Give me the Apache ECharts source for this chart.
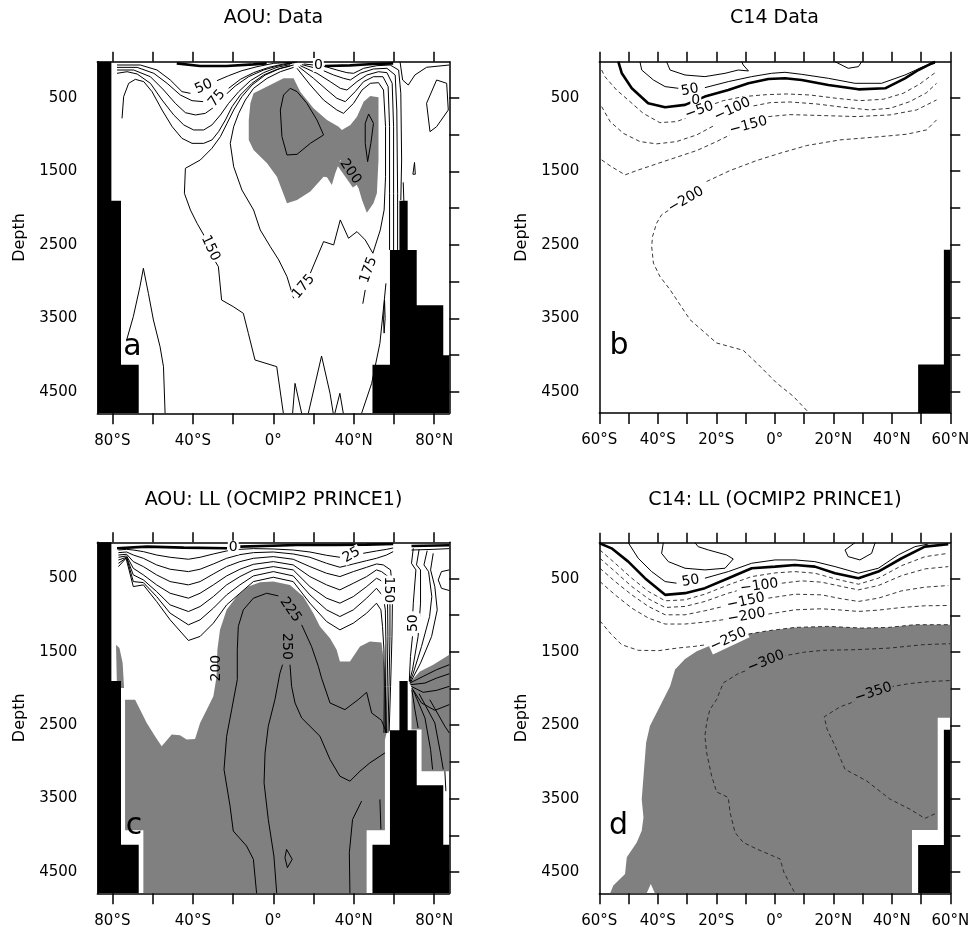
<!DOCTYPE html>
<html><head><meta charset="utf-8">
<script src="https://cdn.jsdelivr.net/npm/echarts@6.0.0/dist/echarts.min.js"></script>
<style>html,body{margin:0;padding:0;background:#fff}#main{width:969px;height:927px}</style>
</head><body><div id="main"></div>
<script>
// ================= DATA =================
const panelTitles = ['AOU: Data', 'C14 Data', 'AOU: LL (OCMIP2 PRINCE1)', 'C14: LL (OCMIP2 PRINCE1)'];
const panelLetters = ['a', 'b', 'c', 'd'];
const letterPos = [[-70.0, 3893], [-53.3, 3887], [-69.2, 3877], [-53.4, 3882]];
const latTicksWide = [-80, -60, -40, -20, 0, 20, 40, 60, 80];
const latLabelsWide = [-80, -40, 0, 40, 80];
const latTicksNarrow = [-60, -50, -40, -30, -20, -10, 0, 10, 20, 30, 40, 50, 60];
const latLabelsNarrow = [-60, -40, -20, 0, 20, 40, 60];
const depthTicks = [500, 1000, 1500, 2000, 2500, 3000, 3500, 4000, 4500];
const depthLabels = [500, 1500, 2500, 3500, 4500];

// ---- panel a : AOU data ----
const aLandW = [[-87.5,0],[-80.5,0],[-80.5,1900],[-75.7,1900],[-75.7,4130],[-66.9,4130],[-66.9,4790],[-87.5,4790]];
const aLandE = [[49.3,4790],[49.3,4130],[58,4130],[58,2570],[62.7,2570],[62.7,1900],[66.8,1900],[66.8,2570],[71.3,2570],[71.3,3320],[84.5,3320],[84.5,4000],[87.5,4000],[87.5,4790]];
const aGray = [[-9.8,440],[-4.8,372],[5.1,236],[10.1,236],[13.4,417],[20.0,644],[26.7,802],[32.5,893],[34.1,938],[38.3,870],[41.6,757],[44.9,553],[48.2,476],[52.3,494],[52.3,893],[52.3,1346],[51.5,1799],[49.8,1935],[46.5,2062],[44.1,1890],[42.4,1731],[38.3,1527],[33.3,1346],[30.8,1527],[29.1,1686],[26.7,1582],[25.0,1573],[18.4,1776],[11.8,1890],[6.8,1935],[4.3,1754],[1.8,1573],[-3.1,1391],[-9.8,1210],[-12.2,1074],[-12.2,802],[-11.4,576]];
const aZeroW = [[-48.0,33],[-36.4,69],[-23.2,69],[-9.9,46],[-3.3,33]];
const aZeroE = [[25.7,69],[38.1,60],[49.7,42],[59.6,33]];
const aT1 = [[-75.2,780],[-74.4,485],[-71.9,304],[-68.6,250],[-64.4,281],[-60.3,417],[-55.3,667],[-50.3,893],[-45.4,1052],[-40.4,1120],[-34.6,1120],[-30.5,1074],[-27.2,961],[-23.8,802],[-20.5,621],[-16.4,463],[-10.6,304],[-4.8,191],[1.8,114],[8.4,69]];
const aT2 = [[-77.7,168],[-72.7,146],[-67.7,177],[-61.1,304],[-55.3,531],[-49.5,734],[-44.5,870],[-39.6,938],[-34.6,938],[-30.5,870],[-26.3,734],[-22.2,576],[-17.2,417],[-11.4,268],[-4.8,159],[1.8,87],[8.4,50]];
const aT3 = [[-77.7,123],[-69.4,123],[-61.1,214],[-54.5,395],[-48.7,576],[-43.7,703],[-38.7,734],[-33.8,712],[-29.6,630],[-24.7,485],[-18.9,340],[-12.3,214],[-4.8,123],[2.7,64],[9.3,32]];
const aT4W = [[-77.7,87],[-67.7,87],[-59.4,168],[-52.8,304],[-46.2,463],[-40.4,540],[-34.9,553]];
const aT4E = [[-22.2,372],[-16.4,250],[-9.8,159],[-2.3,87],[5.1,41],[10.9,23]];
const aT5W = [[-77.7,55],[-66.1,55],[-57.8,123],[-51.2,259],[-45.4,417],[-41.2,440]];
const aT5E = [[-28.0,268],[-22.2,200],[-15.6,132],[-8.1,78],[0.2,32],[11.8,14]];
const a150a = [[10.1,55],[3.5,100],[-4.0,191],[-10.6,327],[-15.6,485],[-19.7,667],[-23.0,848],[-26.3,1029],[-30.5,1187],[-36.3,1346],[-43.7,1459],[-44.2,1799],[-41.2,2026],[-37.9,2207],[-34.3,2379]];
const a150b = [[-28.8,2728],[-27.3,2797],[-25.7,3250],[-19.9,3340],[-14.9,3431],[-12.4,3703],[-9.1,4065],[1.7,4156],[5.0,4790]];
const a175a = [[10.1,87],[3.5,146],[-3.1,236],[-9.8,372],[-13.9,531],[-17.2,712],[-19.7,893],[-21.4,1120],[-19.7,1437],[-15.6,1754],[-9.8,2026],[-6.5,2297],[-1.5,2524],[2.7,2705],[6.8,2932],[10.1,3226]];
const a175b = [[18.4,2886],[25.0,2456],[30.0,2501],[33.3,2161],[37.4,2410],[41.6,2320],[45.7,2433],[49.5,2614]];
const a175c = [[45.7,3113],[44.5,3300]];
const aR1 = [[11.8,100],[18.4,327],[25.0,531],[31.6,667],[34.9,712],[39.9,576],[44.1,395],[48.2,304],[52.3,295],[54.8,395],[55.8,893],[55.8,1573],[55.1,2026],[53.2,2297],[49.5,2614]];
const aR2 = [[12.6,78],[20.0,236],[26.7,395],[31.6,508],[35.8,553],[40.7,417],[44.9,281],[49.8,214],[54.5,214],[57.1,349],[57.8,893],[57.8,1799],[57.8,2569]];
const aR3 = [[13.4,64],[21.7,168],[28.3,281],[33.3,372],[36.6,395],[41.6,281],[46.5,191],[52.3,146],[56.5,159],[59.1,304],[59.8,893],[59.8,1799],[59.8,2590]];
const aR4 = [[14.2,50],[23.4,114],[30.0,191],[34.9,236],[38.3,259],[43.2,168],[49.8,109],[56.5,100],[60.6,191],[61.4,667],[61.8,1799],[61.8,2590]];
const aR5 = [[15.1,41],[25.0,69],[31.6,123],[36.6,159],[39.9,168],[44.9,100],[51.5,64],[58.1,55],[62.3,123],[63.4,440],[63.8,1346],[63.4,1890]];
const a225W = [[3.5,667],[5.1,463],[8.4,372],[11.8,417],[16.7,576],[21.7,802],[25.0,1006],[18.4,1120],[11.8,1269],[6.8,1278],[4.3,1029],[3.5,667]];
const a225E = [[45.7,848],[47.4,721],[49.8,848],[48.5,1120],[46.9,1369],[45.7,1120],[45.7,848]];
const aSouth = [[-72.9,3793],[-69.6,3476],[-66.3,3068],[-64.6,2819],[-62.1,3159],[-59.6,3521],[-56.3,3884],[-54.6,4156],[-53.8,4790]];
const aB1 = [[9.6,4790],[10.8,4383],[14.1,4790]];
const aB2 = [[17.4,4790],[24.0,4011],[28.2,4518],[29.8,4790]];
const aB3 = [[30.6,4790],[33.1,4518],[34.8,4790]];
const aB4 = [[43.9,4790],[48.9,4383],[53.0,3839],[54.7,3385],[56.0,3023]];
const aB5 = [[55.3,3250],[54.8,3520],[55.1,3700],[55.6,3500],[55.3,3250]];
const aNE1 = [[63.0,10],[64.3,259],[67.1,327],[70.4,191],[76.2,86],[87.5,55]];
const aNE2 = [[76.2,575],[81.2,259],[86.2,304],[87.0,667],[81.2,893],[77.9,961],[76.2,575]];
const aNE3 = [[69.4,1540],[70.2,1380],[70.6,1540],[69.4,1540]];
const aNE4 = [[64.6,1650],[64.9,1903]];
const aLabels = [[-34.6,349,'50'],[-28.0,508,'75'],[-31.3,2546,'150'],[15.1,3067,'175'],[47.4,2841,'175'],[38.3,1505,'200'],[22.4,55,'0']];

// ---- panel b : C14 data ----
const bLand = [[49,4790],[49,4130],[57.8,4130],[57.8,2570],[60,2570],[60,4790]];
const bZero = [[-53.5,10],[-52.3,168],[-48.9,372],[-43.3,576],[-37.5,630],[-30.7,598],[-23.9,485],[-15.9,395],[-9.0,304],[-2.2,245],[3.5,236],[9.2,259],[18.3,327],[28.6,386],[37.7,372],[44.5,236],[49.1,123],[54.8,10]];
const bP50W = [[-46.1,10],[-45.5,123],[-41.5,259],[-37.5,349],[-33.0,372]];
const bP50E = [[-23.9,363],[-15.9,281],[-7.9,213],[-1.1,168],[3.5,154],[9.2,182],[18.3,236],[27.4,304],[36.5,304],[44.5,191],[50.8,77],[54.8,32]];
const bP100W = [[-37.0,10],[-35.8,123],[-30.7,191],[-23.9,213],[-17.0,168],[-12.5,123],[-9.0,136],[-10.8,55],[-11.3,10]];
const bP100E = [[20.6,10],[25.1,100],[28.6,77],[29.7,10]];
const bM50W = [[-59.2,123],[-58.1,213],[-54.1,395],[-49.5,553],[-45.0,712],[-39.3,839],[-33.6,825],[-29.6,766]];
const bM50E = [[-22.7,612],[-17.6,540],[-10.8,485],[-2.8,458],[4.1,449],[12.0,463],[21.1,508],[29.1,540],[37.1,521],[43.9,440],[49.6,313],[55.3,145]];
const bM100W = [[-59.2,621],[-56.3,825],[-51.8,984],[-46.1,1097],[-40.4,1128],[-33.6,1097],[-26.7,1006],[-21.0,884]];
const bM100E = [[-7.3,612],[-1.6,567],[5.2,558],[14.3,585],[23.4,630],[32.5,666],[39.4,644],[46.2,553],[51.9,431],[55.3,304]];
const bM150W = [[-59.2,1346],[-56.3,1427],[-51.2,1550],[-47.2,1491],[-40.4,1400],[-33.6,1310],[-26.7,1219],[-19.9,1097],[-15.3,1006]];
const bM150E = [[-2.2,757],[5.2,730],[16.6,743],[28.0,757],[39.4,734],[48.5,666],[55.3,530]];
const bM200E = [[-23.3,1640],[-15.3,1491],[-6.2,1355],[1.8,1255],[10.9,1151],[22.3,1074],[33.7,1038],[45.1,997],[51.9,938],[55.3,802]];
const bM200S = [[-36.4,2034],[-38.7,2093],[-40.4,2207],[-41.8,2388],[-42.1,2524],[-41.5,2750],[-39.3,2931],[-35.8,3113],[-29.0,3520],[-19.9,3837],[-10.8,3937],[-6.2,4109],[0.6,4381],[6.3,4562],[11.5,4780]];
const bLabels = [[-29.0,395,'50'],[-27.0,530,'0'],[-25.8,675,'\u221250'],[-14.5,660,'\u2212100'],[-9.0,880,'\u2212150'],[-30.4,1889,'\u2212200']];

// ---- panel c : AOU model ----
const cLandW = [[-87.5,0],[-80.5,0],[-80.5,1900],[-75.7,1900],[-75.7,4130],[-66.9,4130],[-66.9,4790],[-87.5,4790]];
const cLandE = [[49.3,4790],[49.3,4130],[58,4130],[58,2570],[62.7,2570],[62.7,1900],[66.8,1900],[66.8,2570],[71.3,2570],[71.3,3320],[84.5,3320],[84.5,4130],[87.5,4130],[87.5,4790]];
const cGray = [[0,545],[8.3,590],[14.9,749],[19.9,975],[23.2,1156],[28.2,1315],[31.5,1473],[33.1,1632],[38.1,1632],[43.1,1428],[48.0,1360],[53.8,1374],[55.5,1745],[56.3,2198],[56.3,2606],[55.5,2700],[55.5,3933],[46.4,3933],[46.4,4790],[-64.6,4790],[-64.6,3933],[-73.7,3933],[-73.7,2153],[-68.7,2153],[-62.9,2470],[-58.8,2651],[-55.5,2787],[-50.5,2629],[-46.4,2638],[-43.1,2697],[-38.9,2688],[-36.4,2470],[-33.1,2289],[-29.8,2108],[-28.2,1836],[-27.8,1473],[-26.5,1202],[-23.2,930],[-18.2,749],[-12.4,613],[-6.6,554]];
const cGraySliver = [[-78.2,1406],[-76.5,1451],[-74.9,1655],[-74.2,1994],[-75.9,1994],[-77.8,1890]];
const cGrayNE = [[67.6,1927],[72.9,1768],[79.5,1677],[87.5,1541],[87.5,3127],[73.7,3127],[73.7,2561],[68.7,2561],[68.7,1972]];
const cZeroW = [[-77.7,92],[-62.8,69],[-44.6,83],[-23.0,92]];
const cZeroE = [[-16.4,69],[11.8,47],[29.8,47],[46.4,42],[59.6,33]];
const cZeroNE = [[68.7,60],[87.5,51]];
const cK1W = [[-77.0,115],[-72.9,106],[-69.6,115],[-64.6,137],[-58.0,183],[-51.3,214],[-42.2,241],[-36.4,214],[-29.8,169],[-23.2,128],[-16.6,106],[-9.9,96],[0,101],[9.9,115],[18.2,142],[26.5,187],[33.1,214]];
const cK1E = [[44.7,160],[51.3,128],[56.3,106],[59.6,87]];
const cK2 = [[-77.0,151],[-72.9,142],[-69.6,183],[-64.6,228],[-58.0,318],[-51.3,377],[-42.2,409],[-36.4,377],[-29.8,305],[-23.2,228],[-16.6,178],[-9.9,151],[0,142],[9.9,169],[18.2,214],[26.5,296],[33.1,350],[39.8,305],[46.4,260],[51.3,228],[56.3,183],[59.6,137]];
const cK3 = [[-77.0,183],[-72.9,173],[-69.6,273],[-64.6,341],[-58.0,454],[-51.3,545],[-42.2,590],[-36.4,545],[-29.8,441],[-23.2,341],[-16.6,273],[-9.9,228],[0,205],[9.9,241],[18.2,341],[26.5,432],[33.1,477],[39.8,409],[46.4,350],[51.3,305],[54.7,318],[58.3,386],[59.3,658],[59.0,1292],[58.3,1972],[57.6,2583]];
const cK4 = [[-77.0,214],[-72.9,196],[-69.6,364],[-64.6,454],[-58.0,590],[-51.3,704],[-42.2,771],[-36.4,704],[-29.8,590],[-23.2,468],[-16.6,377],[-9.9,310],[0,273],[9.9,318],[18.2,477],[26.5,590],[33.1,658],[39.8,568],[46.4,477],[51.3,386],[53.8,409],[57.1,477],[58.0,749],[58.0,1292],[57.5,1972],[57.0,2606]];
const cK5 = [[-77.0,251],[-72.9,214],[-69.6,454],[-64.6,522],[-58.0,681],[-51.3,862],[-42.2,953],[-36.4,885],[-29.8,749],[-23.2,590],[-16.6,477],[-9.9,386],[0,341],[9.9,386],[18.2,613],[26.5,771],[33.1,839],[39.8,749],[46.4,613],[51.3,500],[53.0,522],[56.0,590],[56.8,839],[57.0,1292],[56.6,1972],[56.3,2606]];
const cK6 = [[-77.0,296],[-72.9,219],[-69.6,545],[-64.6,559],[-58.0,749],[-51.3,975],[-42.2,1134],[-36.4,1066],[-29.8,907],[-23.2,726],[-16.6,590],[-9.9,468],[0,409],[9.9,468],[18.2,726],[26.5,930],[33.1,1021],[39.8,930],[46.4,771],[51.3,636],[52.2,658],[54.7,749],[55.7,930],[56.0,1383],[55.8,1972],[55.7,2606]];
const cK7 = [[-77.0,341],[-73.2,228],[-69.6,613],[-64.6,590],[-58.0,817],[-51.3,1066],[-42.2,1347],[-36.4,1292],[-29.8,1111],[-23.2,862],[-16.6,704],[-9.9,545],[0,486],[9.9,545],[18.2,839],[26.5,1089],[33.1,1202],[39.8,1111],[46.4,975],[51.3,839],[53.5,930],[54.3,1156],[55.0,1473],[55.2,1972],[55.0,2606]];
const c225W = [[-8.3,4790],[-9.9,4327],[-13.3,4146],[-19.9,3942],[-21.5,3603],[-24.5,3104],[-23.2,2651],[-20.7,2289],[-17.9,1881],[-17.9,1473],[-17.4,1156],[-14.9,930],[-9.9,771],[-3.3,704],[2.5,740]];
const c225E = [[14.1,1134],[19.0,1428],[22.4,1700],[24.0,1859],[28.2,2198],[35.6,2289],[42.2,2153],[46.4,2053],[48.9,2334],[53.8,2434],[56.3,2606]];
const c250W = [[1.7,4790],[0.3,4282],[-2.5,3784],[-4.6,3286],[-4.1,2878],[-2.5,2515],[0.8,2153],[3.3,1791],[4.6,1677]];
const c250E = [[8.3,1677],[9.1,1972],[10.8,2198],[14.1,2402],[23.2,2651],[28.2,2968],[33.1,3195],[38.1,3263],[43.1,3127],[48.0,3014],[53.0,2923],[55.5,2878]];
const cDeep1 = [[38.1,4790],[37.8,4237],[39.4,3784],[43.9,3535]];
const cDeep2 = [[53.0,3512],[53.5,3920]];
const cDiamond = [[6.6,4192],[9.4,4327],[7.0,4441],[5.8,4305],[6.6,4192]];
const cV1a = [[69.6,92],[68.7,296],[70.9,386],[69.6,839],[69.4,950]];
const cV1b = [[69.2,1290],[68.2,1564],[67.6,1904]];
const cV2 = [[72.5,106],[71.2,318],[73.2,386],[73.2,839],[72.0,1292],[69.2,1745],[67.7,1904]];
const cV3 = [[76.5,124],[74.9,318],[77.2,409],[78.8,749],[77.7,1021],[73.7,1428],[69.6,1791],[67.9,1913]];
const cV4 = [[79.5,160],[78.2,386],[80.3,613],[81.5,930],[78.7,1292],[73.2,1655],[68.2,1918]];
const cLoopNE = [[87.5,386],[83.6,409],[82.0,522],[83.6,636],[87.5,667]];
const cThinNE = [[68.7,115],[79.5,106],[87.5,96]];
const cF1 = [[67.9,1927],[74.5,1836],[81.2,1745],[87.5,1677]];
const cF2 = [[68.2,1949],[75.4,1927],[81.2,1859],[87.5,1800]];
const cF3 = [[68.6,1972],[74.5,2053],[81.2,2026],[87.5,1972]];
const cF4 = [[68.9,1995],[73.7,2198],[80.3,2298],[87.5,2221]];
const cF5 = [[68.9,2017],[70.4,2289],[72.0,2538]];
const cF6 = [[69.6,2026],[75.4,2402],[78.2,2833],[79.2,3104]];
const cF7 = [[72.5,2072],[80.3,2470],[83.1,2878],[84.5,3104]];
const cF8 = [[77.8,2153],[85.3,2515],[87.5,2606]];
const cF9 = [[85.3,3127],[85.8,3399]];
const cLabels = [[-19.9,83,'0'],[38.9,183,'25'],[57.1,658,'150'],[69.6,1111,'50'],[8.5,930,'225'],[6.6,1428,'250'],[-28.2,1723,'200']];

// ---- panel d : C14 model ----
const dLand = [[49,4790],[49,4130],[57.8,4130],[57.8,2560],[60,2560],[60,4790]];
const dGray = [[60.0,1128],[59.3,1128],[47.9,1128],[38.8,1165],[29.7,1174],[18.3,1151],[6.9,1165],[-2.2,1210],[-9.0,1255],[-15.9,1340],[-22.2,1414],[-26.7,1491],[-30.7,1595],[-34.1,1740],[-35.8,1967],[-38.1,2148],[-40.4,2329],[-42.7,2510],[-44.0,2737],[-44.7,3099],[-45.5,3507],[-44.9,3756],[-45.5,3937],[-47.2,4096],[-50.6,4299],[-51.2,4526],[-55.2,4685],[-56.3,4790],[-43.8,4790],[-42.4,4662],[-41.0,4790],[46.9,4790],[46.9,3928],[55.7,3928],[55.7,2397],[60.0,2397]];
const dZero = [[-59.8,19],[-55.8,87],[-50.1,268],[-44.4,494],[-37.5,721],[-30.7,698],[-23.9,630],[-15.9,494],[-7.9,358],[0.1,336],[6.9,313],[13.7,336],[20.6,426],[28.6,494],[35.4,404],[43.4,222],[51.3,64],[59.3,32]];
const dP50W = [[-50.1,10],[-46.7,222],[-42.1,404],[-37.5,540],[-33.6,562]];
const dP50E = [[-23.9,494],[-15.9,404],[-7.9,290],[0.1,245],[6.9,245],[13.7,268],[20.6,336],[28.6,426],[35.4,358],[42.2,177],[47.9,64],[52.5,28]];
const dLoopW = [[-38.1,10],[-38.7,155],[-36.4,268],[-30.7,358],[-23.9,381],[-17.0,358],[-14.2,232],[-16.5,177],[-22.7,109],[-26.2,64],[-27.3,10]];
const dLoopE = [[27.4,10],[24.0,109],[25.1,200],[29.1,245],[33.1,155],[34.3,10]];
const dM50 = [[-59.8,109],[-54.6,290],[-48.9,494],[-43.2,675],[-37.5,802],[-30.7,789],[-23.9,712],[-15.9,585],[-7.9,472],[0.1,422],[6.9,404],[13.7,426],[20.6,503],[28.6,576],[35.4,494],[43.4,322],[51.4,200],[59.3,155]];
const dM100W = [[-59.8,222],[-54.6,404],[-48.9,607],[-43.2,775],[-37.5,893],[-30.7,879],[-23.9,811],[-15.9,698],[-13.0,666]];
const dM100E = [[2.4,562],[9.2,530],[16.0,548],[22.9,607],[28.6,653],[35.4,594],[43.4,458],[51.4,367],[59.3,336]];
const dM150W = [[-59.8,358],[-54.6,539],[-48.9,721],[-43.2,879],[-37.5,993],[-30.7,993],[-23.9,938],[-17.6,879]];
const dM150E = [[-2.2,766],[6.9,712],[16.0,721],[22.9,775],[28.6,811],[35.4,766],[43.4,666],[51.4,616],[59.3,594]];
const dM200W = [[-59.8,539],[-54.6,721],[-48.9,902],[-43.2,1038],[-37.5,1119],[-30.7,1119],[-23.9,1092],[-17.6,1060]];
const dM200E = [[-2.2,983],[6.9,925],[16.0,911],[22.9,929],[28.6,947],[35.4,929],[43.4,893],[51.4,870],[59.3,866]];
const dM250W = [[-59.8,1074],[-56.3,1242],[-52.4,1400],[-46.7,1477],[-39.8,1482],[-33.0,1445],[-27.3,1423],[-23.3,1400]];
const dM250E = [[-9.0,1255],[-2.2,1210],[6.9,1165],[18.3,1151],[29.7,1174],[38.8,1165],[47.9,1128],[60.0,1128]];
const dM300W = [[-7.9,1726],[-12.5,1794],[-17.6,1921],[-19.9,2148],[-22.2,2284],[-23.3,2465],[-23.9,2646],[-23.3,2873],[-21.6,3190],[-19.9,3407],[-15.9,3484],[-15.3,3688],[-13.6,3960],[-10.8,4096],[-6.2,4186],[1.8,4322],[3.1,4503],[5.2,4662],[6.9,4790]];
const dM300E = [[2.3,1559],[9.8,1504],[16.6,1477],[28.0,1468],[39.4,1446],[50.8,1400],[60.0,1387]];
const dM350W = [[28.6,2157],[22.3,2248],[16.9,2383],[17.9,2555],[20.6,2782],[24.0,3099],[31.4,3258],[39.4,3507],[46.2,3643],[51.3,3769],[55.7,3688]];
const dM350E = [[39.4,1976],[46.2,1930],[53.0,1903],[60.0,1889]];
const dLabels = [[-28.8,530,'50'],[-5.3,600,'\u2212100'],[-9.9,810,'\u2212150'],[-9.7,1010,'\u2212200'],[-15.9,1330,'\u2212250'],[-3.0,1630,'\u2212300'],[33.7,2057,'\u2212350']];

// ================= STYLE / LAYOUT =================
const FONT = 'DejaVu Sans';
const GRAY = '#808080';
const aAngles = [25, 50, -65, 50, 70, -55, 0];
const aBg = ['#fff','#fff','#fff','#fff','#fff',GRAY,'#fff'];
const bAngles = [10, 0, 20, 25, 15, 30];
const bBg = ['#fff','#fff','#fff','#fff','#fff','#fff'];
const cAngles = [0, 30, -90, 90, -55, -90, 90];
const cBg = ['#fff','#fff','#fff','#fff',GRAY,GRAY,null];
const dAngles = [10, 8, 12, 10, 25, 22, 18];
const dBg = ['#fff','#fff','#fff','#fff','#fff',GRAY,GRAY];

const panels = [
  {left:97.3, top:61.7, width:352, height:351.6, xmin:-87.5, xmax:87.5, ticks:latTicksWide, labels:latLabelsWide, tx:273.5, ty:18.5},
  {left:599.3, top:61.7, width:351, height:351.3, xmin:-60, xmax:60, ticks:latTicksNarrow, labels:latLabelsNarrow, tx:774.5, ty:18.5},
  {left:97.3, top:542.3, width:352, height:351, xmin:-87.5, xmax:87.5, ticks:latTicksWide, labels:latLabelsWide, tx:273.5, ty:500},
  {left:599.3, top:542.7, width:351, height:350.6, xmin:-60, xmax:60, ticks:latTicksNarrow, labels:latLabelsNarrow, tx:775, ty:500}
];

const grid = [], xAxis = [], yAxis = [], series = [], graphic = [];
const latFmt = v => v === 0 ? '0\u00b0' : (v < 0 ? (-v) + '\u00b0S' : v + '\u00b0N');
const depthFmt = v => String(Math.round(v));
const axLine = {show:true, onZero:false, lineStyle:{color:'#000', width:1.5}};
panels.forEach((p, i) => {
  grid.push({left:p.left, top:p.top, width:p.width, height:p.height, containLabel:false, outerBoundsMode:'none', show:false});
  xAxis.push({gridIndex:i, type:'value', position:'bottom', min:p.xmin, max:p.xmax, axisLine:axLine,
    axisTick:{show:true, inside:false, length:11, customValues:p.ticks, lineStyle:{color:'#000', width:1.5}},
    axisLabel:{show:true, customValues:p.labels, formatter:latFmt, margin:20, color:'#000', fontSize:15, fontFamily:FONT},
    splitLine:{show:false}});
  xAxis.push({gridIndex:i, type:'value', position:'top', min:p.xmin, max:p.xmax, axisLine:axLine,
    axisTick:{show:true, inside:false, length:10, customValues:p.ticks, lineStyle:{color:'#000', width:1.5}},
    axisLabel:{show:false}, splitLine:{show:false}});
  yAxis.push({gridIndex:i, type:'value', position:'left', inverse:true, min:10, max:4790, axisLine:axLine,
    axisTick:{show:false}, axisLabel:{show:true, customValues:depthLabels, formatter:depthFmt, margin:20, color:'#000', fontSize:15, fontFamily:FONT},
    name:'Depth', nameLocation:'middle', nameGap:69, nameRotate:90,
    nameTextStyle:{color:'#000', fontSize:16, fontFamily:FONT}, splitLine:{show:false}});
  yAxis.push({gridIndex:i, type:'value', position:'right', inverse:true, min:10, max:4790, axisLine:axLine,
    axisTick:{show:true, inside:false, length:10, customValues:depthTicks, lineStyle:{color:'#000', width:1.5}},
    axisLabel:{show:false}, splitLine:{show:false}});
  graphic.push({type:'text', x:p.tx, y:p.ty, style:{text:panelTitles[i], font:'19px "' + FONT + '"', fill:'#000', align:'center', verticalAlign:'middle', textAlign:'center', textVerticalAlign:'middle'}});
});

function poly(i, pts, color, z) {
  series.push({type:'custom', xAxisIndex:2*i, yAxisIndex:2*i, z:z, silent:true, animation:false, clip:true,
    data:[pts[0]],
    renderItem:(params, api) => ({type:'polygon', shape:{points:pts.map(q => api.coord(q))}, style:{fill:color, stroke:null}})});
}
function line(i, pts, kind) {
  series.push({type:'line', xAxisIndex:2*i, yAxisIndex:2*i, data:pts, showSymbol:false, symbol:'none', silent:true,
    animation:false, z:3, clip:true,
    lineStyle:{color: kind === 'dash' ? '#222' : '#000', width: kind === 'thick' ? 2.6 : (kind === 'dash' ? 0.9 : 1),
      type: kind === 'dash' ? [4, 3] : 'solid'}});
}
function labels(i, items, angles, bgs, size) {
  series.push({type:'custom', xAxisIndex:2*i, yAxisIndex:2*i, z:5, silent:true, animation:false, clip:false,
    data: items.map(d => [d[0], d[1]]),
    renderItem:(params, api) => {
      const k = params.dataIndex;
      const c = api.coord([api.value(0), api.value(1)]);
      return {type:'text', x:c[0], y:c[1], rotation: angles[k] * Math.PI / 180,
        style:{text:items[k][2], font: size + 'px "' + FONT + '"', fill:'#000', align:'center', verticalAlign:'middle',
          textAlign:'center', textVerticalAlign:'middle', backgroundColor:bgs[k] || 'transparent', padding:[0, 1]}};
    }});
}

// ---- panel a ----
poly(0, aGray, GRAY, 1);
[aT1, aT2, aT3, aT4W, aT4E, aT5W, aT5E, a150a, a150b, a175a, a175b, a175c, aR1, aR2, aR3, aR4, aR5,
 a225W, a225E, aSouth, aB1, aB2, aB3, aB4, aB5, aNE1, aNE2, aNE3, aNE4].forEach(l => line(0, l, 'solid'));
[aZeroW, aZeroE].forEach(l => line(0, l, 'thick'));
labels(0, aLabels, aAngles, aBg, 14);
poly(0, aLandW, '#000', 6); poly(0, aLandE, '#000', 6);

// ---- panel b ----
[bP50W, bP50E, bP100W, bP100E].forEach(l => line(1, l, 'solid'));
line(1, bZero, 'thick');
[bM50W, bM50E, bM100W, bM100E, bM150W, bM150E, bM200E, bM200S].forEach(l => line(1, l, 'dash'));
labels(1, bLabels, bAngles, bBg, 14);
poly(1, bLand, '#000', 6);

// ---- panel c ----
poly(2, cGray, GRAY, 1); poly(2, cGraySliver, GRAY, 1); poly(2, cGrayNE, GRAY, 1);
[cK1W, cK1E, cK2, cK3, cK4, cK5, cK6, cK7, c225W, c225E, c250W, c250E, cDeep1, cDeep2, cDiamond,
 cV1a, cV1b, cV2, cV3, cV4, cLoopNE, cThinNE, cF1, cF2, cF3, cF4, cF5, cF6, cF7, cF8, cF9].forEach(l => line(2, l, 'solid'));
[cZeroW, cZeroE, cZeroNE].forEach(l => line(2, l, 'thick'));
labels(2, cLabels, cAngles, cBg, 14);
poly(2, cLandW, '#000', 6); poly(2, cLandE, '#000', 6);

// ---- panel d ----
poly(3, dGray, GRAY, 1);
[dP50W, dP50E, dLoopW, dLoopE].forEach(l => line(3, l, 'solid'));
line(3, dZero, 'thick');
[dM50, dM100W, dM100E, dM150W, dM150E, dM200W, dM200E, dM250W, dM250E, dM300W, dM300E, dM350W, dM350E].forEach(l => line(3, l, 'dash'));
labels(3, dLabels, dAngles, dBg, 14);
poly(3, dLand, '#000', 6);

// panel letters
panels.forEach((p, i) => labels(i, [[letterPos[i][0], letterPos[i][1], panelLetters[i]]], [0], [null], 30));

const chart = echarts.init(document.getElementById('main'), null, {renderer:'canvas', width:969, height:927});
chart.setOption({animation:false, backgroundColor:'#fff', grid, xAxis, yAxis, series, graphic});
</script></body></html>
